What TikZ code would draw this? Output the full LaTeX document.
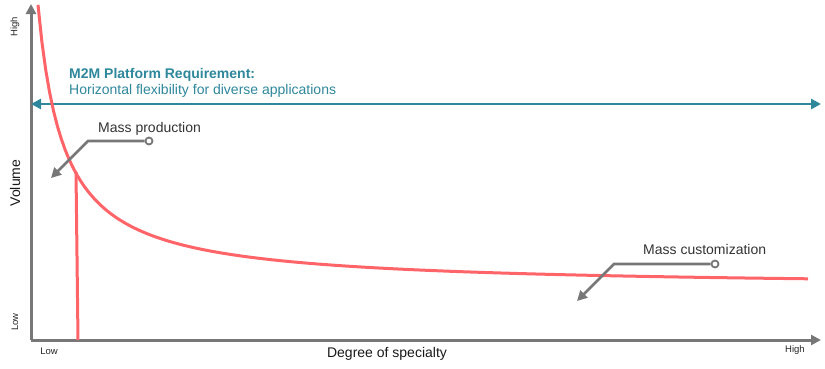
\documentclass[tikz,border=0pt]{standalone}
\usepackage{fontspec}
\setmainfont{Liberation Sans}
\usetikzlibrary{arrows.meta,positioning}
\definecolor{axisgray}{HTML}{777777}
\definecolor{curvered}{HTML}{FF6468}
\definecolor{platformteal}{HTML}{2E879B}

\begin{document}
\begin{tikzpicture}[x=1pt, y=-1pt,
    axis/.style={draw=axisgray, line width=3pt, -{Triangle[length=10pt, width=10pt]}},
    callout/.style={draw=axisgray, line width=2.6pt, -{Triangle[length=10pt, width=10pt]}},
    calloutend/.style={circle, draw=axisgray, line width=1.8pt, fill=white, inner sep=0pt, minimum size=7pt},
    curve/.style={draw=curvered, line width=3pt},
    ticklabel/.style={font=\fontsize{9.5}{11}\selectfont, text=black!85},
    axislabel/.style={font=\fontsize{14}{16}\selectfont, text=black!90},
    calloutlabel/.style={font=\fontsize{14}{16}\selectfont, text=black!80, inner sep=0pt}
  ]
    \useasboundingbox (0,0) rectangle (825,368);
    % axes
    \coordinate (origin) at (31,340);
    \coordinate (ytop) at (31,4);
    \coordinate (xend) at (821,340);
    \draw[axis] (origin) -- (ytop);
    \draw[axis] (origin) -- (xend);
    \node[ticklabel, rotate=90] (yhigh) at (15,27) {High};
    \node[ticklabel, rotate=90] (ylow) at (15,322) {Low};
    \node[axislabel, rotate=90] (ylabel) at (15,183) {Volume};
    \node[ticklabel] (xlow) at (49,351) {Low};
    \node[ticklabel] (xhigh) at (795,350) {High};
    \node[axislabel] (xlabel) at (387,354) {Degree of specialty};
    % platform requirement
    \coordinate (reqleft) at (31,104);
    \coordinate (reqright) at (821,104);
    \draw[draw=platformteal, line width=2.6pt,
      {Triangle[length=10pt, width=10pt]}-{Triangle[length=10pt, width=10pt]}] (reqleft) -- (reqright);
    \node[anchor=base west, inner sep=0pt, font=\fontsize{14}{16}\selectfont\bfseries, text=platformteal] (reqtitle) at (69,78) {M2M Platform Requirement:};
    \node[anchor=base west, inner sep=0pt, font=\fontsize{14}{16}\selectfont, text=platformteal] (reqtext) at (69,94) {Horizontal flexibility for diverse applications};
    % curves
    \draw[curve] plot[domain=38:808, samples=200] (\x, {288-7334/(\x-12.1)});
    \draw[curve] (76,172) -- (78,340);
    % callouts
    \node[calloutend] (prodend) at (149,141) {};
    \coordinate (prodbend) at (88,141);
    \coordinate (prodtip) at (51,178);
    \draw[callout] (prodend) -- (prodbend) -- (prodtip);
    \node[calloutlabel, anchor=base west] (prodlabel) at (98,132) {Mass production};
    \node[calloutend] (custend) at (715,264) {};
    \coordinate (custbend) at (614,264);
    \coordinate (custtip) at (577,301);
    \draw[callout] (custend) -- (custbend) -- (custtip);
    \node[calloutlabel, anchor=base west] (custlabel) at (643,254) {Mass customization};
  \end{tikzpicture}
\end{document}
